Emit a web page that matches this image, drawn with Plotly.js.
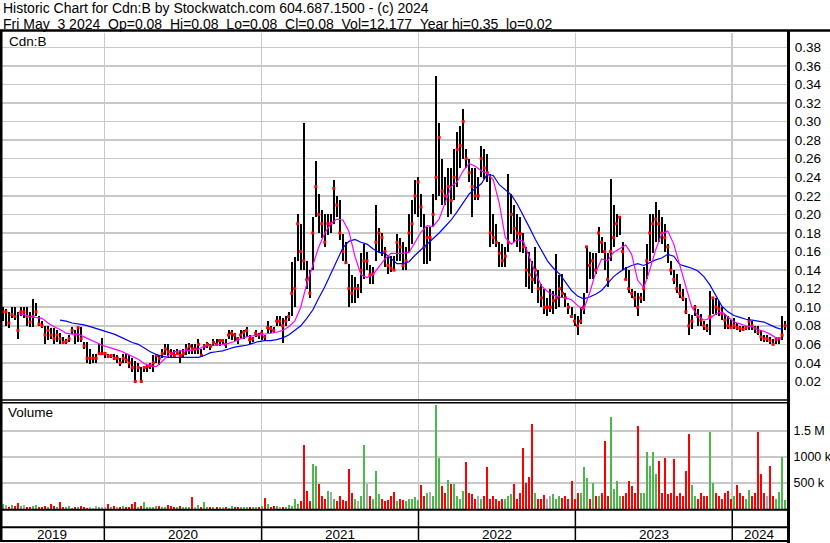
<!DOCTYPE html>
<html><head><meta charset="utf-8">
<script src="https://cdn.plot.ly/plotly-3.0.1.min.js"></script>
<style>html,body{margin:0;padding:0;background:#fff;overflow:hidden}#chart{width:830px;height:543px}</style>
</head><body><div id="chart"></div>
<script>
// ---- data (weekly, first week = 2019-05-03) ----
const startDate = '2019-05-03';
const high = [
.10,.10,.098,.095,.10,.10,.095,.10,.10,.10,
.095,.109,.105,.09,.085,.08,.08,.078,.078,.075,
.072,.068,.066,.07,.079,.075,.079,.079,.062,.062,
.055,.05,.05,.06,.067,.052,.05,.05,.05,.048,
.045,.05,.05,.048,.045,.042,.04,.036,.036,.038,
.04,.048,.05,.048,.055,.06,.06,.055,.054,.055,
.054,.055,.06,.061,.06,.06,.066,.055,.06,.062,
.06,.066,.066,.066,.066,.066,.075,.075,.072,.068,
.075,.075,.079,.07,.068,.075,.072,.075,.07,.085,
.08,.079,.09,.09,.088,.09,.095,.149,.154,.2,
.19,.298,.15,.14,.197,.258,.222,.205,.2,.2,
.2,.237,.22,.215,.179,.17,.147,.135,.133,.125,
.158,.168,.16,.145,.143,.21,.185,.18,.165,.154,
.155,.155,.179,.175,.17,.165,.2,.215,.237,.24,
.222,.2,.186,.186,.222,.349,.299,.26,.24,.25,
.25,.27,.289,.295,.314,.27,.26,.25,.25,.24,
.274,.27,.265,.244,.2,.19,.17,.168,.165,.244,
.222,.21,.2,.197,.18,.165,.16,.15,.165,.14,
.125,.12,.11,.12,.118,.157,.135,.136,.115,.105,
.1,.093,.09,.1,.115,.165,.16,.158,.158,.186,
.176,.17,.158,.238,.21,.2,.197,.17,.143,.14,
.12,.118,.115,.115,.143,.168,.2,.2,.213,.205,
.197,.19,.168,.15,.14,.136,.125,.12,.11,.093,
.092,.102,.098,.093,.085,.082,.118,.11,.11,.107,
.1,.093,.09,.086,.088,.083,.08,.08,.08,.089,
.085,.08,.08,.075,.07,.07,.068,.066,.068,.067,
.09,.085];
const low = [
.084,.085,.08,.078,.088,.086,.066,.09,.088,.08,
.079,.079,.09,.08,.078,.06,.065,.066,.06,.062,
.06,.06,.06,.062,.071,.06,.062,.062,.055,.04,
.039,.04,.04,.048,.05,.045,.045,.045,.043,.04,
.037,.04,.04,.035,.03,.019,.03,.019,.03,.03,
.033,.03,.04,.038,.045,.048,.046,.046,.046,.048,
.04,.045,.048,.05,.05,.05,.05,.046,.054,.056,
.054,.058,.058,.058,.06,.056,.066,.065,.064,.06,
.066,.066,.068,.06,.062,.068,.066,.065,.065,.072,
.072,.072,.08,.08,.061,.08,.085,.09,.1,.15,
.14,.14,.12,.11,.14,.197,.18,.175,.165,.178,
.18,.19,.197,.172,.15,.147,.1,.105,.105,.11,
.115,.13,.14,.125,.125,.15,.16,.155,.143,.136,
.138,.14,.15,.15,.14,.14,.16,.168,.2,.197,
.186,.147,.147,.15,.186,.215,.22,.21,.21,.197,
.2,.215,.23,.25,.26,.25,.235,.197,.215,.215,
.24,.238,.235,.165,.168,.165,.143,.143,.143,.16,
.179,.17,.165,.16,.158,.122,.12,.115,.125,.105,
.1,.093,.09,.095,.093,.098,.1,.11,.1,.093,
.088,.08,.07,.082,.093,.115,.13,.13,.136,.158,
.158,.14,.122,.15,.165,.176,.178,.14,.129,.115,
.11,.1,.09,.105,.107,.13,.15,.158,.17,.17,
.168,.16,.148,.135,.125,.115,.11,.107,.093,.07,
.077,.09,.08,.08,.075,.073,.07,.093,.092,.09,
.086,.077,.077,.077,.077,.075,.073,.075,.075,.075,
.075,.072,.07,.064,.063,.062,.06,.06,.06,.06,
.065,.075];
const close = [
.09,.095,.095,.083,.092,.09,.075,.095,.095,.09,
.084,.09,.095,.082,.08,.07,.075,.07,.066,.07,
.066,.062,.063,.066,.075,.07,.078,.066,.058,.045,
.045,.045,.045,.05,.05,.05,.047,.048,.045,.045,
.04,.045,.043,.04,.035,.02,.035,.02,.035,.036,
.037,.04,.048,.045,.05,.055,.052,.05,.048,.05,
.048,.05,.055,.058,.055,.055,.06,.048,.058,.06,
.058,.062,.06,.064,.064,.06,.07,.072,.07,.066,
.07,.073,.075,.065,.066,.072,.07,.072,.068,.078,
.077,.075,.085,.085,.08,.085,.09,.115,.12,.19,
.16,.15,.13,.115,.18,.23,.2,.19,.17,.19,
.19,.228,.21,.18,.16,.148,.12,.115,.12,.12,
.14,.15,.15,.135,.136,.17,.18,.175,.16,.145,
.142,.14,.17,.165,.145,.15,.18,.19,.22,.235,
.208,.165,.175,.175,.2,.24,.283,.225,.22,.23,
.215,.24,.27,.274,.3,.26,.245,.23,.22,.22,
.26,.25,.245,.18,.175,.17,.158,.15,.155,.17,
.2,.185,.18,.179,.165,.14,.135,.13,.14,.12,
.11,.1,.1,.1,.107,.11,.12,.115,.11,.1,
.09,.085,.08,.085,.1,.165,.145,.15,.14,.18,
.17,.16,.13,.16,.175,.19,.197,.16,.13,.12,
.115,.11,.1,.11,.12,.15,.18,.19,.195,.19,
.18,.175,.165,.14,.13,.12,.115,.11,.095,.08,
.085,.1,.09,.086,.08,.077,.09,.11,.1,.098,
.093,.086,.08,.078,.08,.078,.077,.076,.078,.085,
.08,.077,.073,.068,.066,.066,.064,.06,.065,.066,
.07,.08];
// volume, thousands of shares
const volumeK = [
60,90,80,40,70,60,110,50,70,30,
40,50,80,40,30,60,40,90,50,30,
140,40,30,50,20,30,40,60,30,20,
40,20,60,30,30,40,90,40,60,30,
30,60,30,40,90,130,40,60,140,40,
30,30,50,60,40,30,70,60,30,40,
50,40,30,30,225,40,70,30,130,40,
30,40,30,30,40,30,20,50,30,40,
30,40,30,40,40,30,40,60,205,100,
30,50,60,30,40,30,80,60,190,100,
150,1230,350,150,865,830,480,255,200,350,
320,200,150,250,180,150,770,300,200,150,
250,1230,490,250,200,740,290,200,150,180,
250,320,150,200,180,150,190,200,225,180,
460,250,300,320,250,2000,990,450,300,560,
480,480,250,200,350,900,300,290,200,250,
200,250,815,200,250,200,150,200,200,250,
280,480,200,300,1170,500,610,1630,300,200,
200,270,200,250,295,200,250,220,250,200,
545,200,300,300,815,590,200,500,250,250,
300,1310,250,1780,385,545,250,250,300,545,
450,300,1600,300,300,1100,820,1100,670,930,
300,990,290,300,970,250,300,250,740,1440,
460,250,200,300,250,250,1490,510,300,250,
200,300,350,200,250,460,300,250,200,370,
250,300,1490,670,300,250,830,250,200,320,
1000,180];
// moving averages, sampled every second week
const maFast = [
null,null,null,.093,.092,.09,.089,.088,.083,.079,
.076,.072,.071,.071,.068,.065,.062,.059,.057,.055,
.053,.05,.047,.044,.039,.037,.036,.042,.048,.052,
.053,.053,.054,.055,.058,.059,.059,.06,.061,.063,
.066,.068,.069,.07,.071,.072,.073,.075,.079,.085,
.1,.125,.145,.165,.18,.19,.195,.194,.182,.155,
.135,.132,.135,.143,.152,.158,.158,.158,.159,.17,
.181,.188,.187,.195,.213,.23,.235,.247,.255,.252,
.247,.244,.237,.212,.175,.168,.173,.171,.154,.137,
.123,.117,.113,.111,.11,.108,.102,.097,.115,.137,
.152,.15,.159,.163,.167,.157,.129,.121,.14,.162,
.179,.182,.168,.145,.122,.1,.091,.086,.088,.093,
.095,.089,.084,.082,.08,.079,.076,.074,.071,.067,
.067];
const maSlow = [
null,null,null,null,null,null,null,null,null,null,
.086,.085,.083,.082,.081,.079,.077,.075,.073,.071,
.068,.065,.062,.06,.056,.052,.049,.047,.046,.046,
.046,.046,.046,.046,.048,.051,.052,.053,.055,.057,
.058,.059,.061,.063,.064,.064,.065,.067,.07,.075,
.08,.088,.097,.11,.122,.136,.15,.164,.171,.173,
.17,.168,.163,.159,.158,.153,.147,.147,.149,.156,
.162,.167,.173,.18,.187,.194,.203,.213,.222,.228,
.233,.243,.242,.232,.226,.221,.211,.199,.186,.173,
.161,.15,.142,.136,.127,.118,.112,.109,.111,.114,
.118,.125,.133,.138,.142,.145,.147,.145,.148,.151,
.153,.157,.155,.146,.144,.142,.139,.133,.124,.112,
.101,.095,.091,.089,.087,.086,.085,.084,.081,.078,
.076];
const priceTicks = [0.02,0.04,0.06,0.08,0.10,0.12,0.14,0.16,0.18,0.20,0.22,0.24,0.26,0.28,0.30,0.32,0.34,0.36,0.38];
const volTicks = [500000,1000000,1500000];
const volTickText = ['500 k','1000 k','1.5 M'];
const yearStarts = ['2020-01-01','2021-01-01','2022-01-01','2023-01-01','2024-01-01'];
const yearLabels = ['2019','2020','2021','2022','2023','2024'];
const titleLine1 = 'Historic Chart for Cdn:B by Stockwatch.com 604.687.1500 - (c) 2024';
const titleLine2 = 'Fri May\u00a0\u00a03 2024\u00a0\u00a0Op=0.08\u00a0\u00a0Hi=0.08\u00a0\u00a0Lo=0.08\u00a0\u00a0Cl=0.08\u00a0\u00a0Vol=12,177\u00a0\u00a0Year hi=0.35\u00a0\u00a0lo=0.02';

// ---- build ----
const DAY = 864e5;
const t0 = Date.parse(startDate + 'T00:00:00Z');
const iso = t => new Date(t).toISOString().slice(0,19).replace('T',' ');
const weeks = high.map((_, i) => iso(t0 + i * 7 * DAY));
const maDates = maFast.map((_, k) => weeks[2 * k]);
const xRange = ['2019-05-03 06:00', '2024-05-07 10:00'];
const W = 830, H = 543, PLOT_W = 787;
const px = x => x / W, py = y => 1 - y / H;
const tStart = Date.parse(xRange[0].replace(' ','T')+'Z'), tEnd = Date.parse(xRange[1].replace(' ','T')+'Z');
const msPerPx = (tEnd - tStart) / PLOT_W;
const GREEN = '#4cb84c', RED = '#ff0000', GRAY = '#aaaaaa';
const volColors = close.map((c, i) => i === 0 ? GRAY : (c > close[i-1] ? GREEN : (c < close[i-1] ? RED : GRAY)));

const traces = [
  {type:'bar', x:weeks, y:high.map((h,i)=>Math.max(h-low[i],0.0012)), base:low, width:2*msPerPx,
   marker:{color:'#000', line:{width:0}}, xaxis:'x', yaxis:'y', hoverinfo:'skip'},
  {type:'scatter', mode:'markers', x:weeks, y:close, marker:{symbol:'square', size:3, color:RED, line:{width:0}},
   xaxis:'x', yaxis:'y', hoverinfo:'skip'},
  {type:'scatter', mode:'lines', x:maDates, y:maSlow, line:{color:'#0000ff', width:1.2}, xaxis:'x', yaxis:'y', hoverinfo:'skip'},
  {type:'scatter', mode:'lines', x:maDates, y:maFast, line:{color:'#ff00ff', width:1.2}, xaxis:'x', yaxis:'y', hoverinfo:'skip'},
  {type:'bar', x:weeks, y:volumeK.map(v=>v*1000), width:2*msPerPx, marker:{color:volColors, line:{width:0}},
   xaxis:'x2', yaxis:'y2', hoverinfo:'skip'}
];

// year-label positions: middle of each year segment inside the visible range
const bounds = [tStart].concat(yearStarts.map(d=>Date.parse(d+'T00:00:00Z')), [tEnd]);
const yearAnn = yearLabels.map((lab, i) => ({
  text: lab, xref:'x', yref:'paper', x: iso((bounds[i] + bounds[i+1]) / 2), y: py(534.5),
  xanchor:'center', yanchor:'middle', showarrow:false, borderpad:0, font:{size:13.5, color:'#000'}
}));

const gridC = '#c8c8c8';
const line = (x0,y0,x1,y1,w) => ({type:'line', xref:'paper', yref:'paper', x0:px(x0), y0:py(y0), x1:px(x1), y1:py(y1), line:{color:'#000', width:w}});
const shapes = [
  line(0,30.5,830,30.5,2.5),
  line(0,400,788,400,1.5),
  line(0,402.8,788,402.8,1.5),
  line(0,509.8,788,509.8,2),
  line(0,527.3,788,527.3,2),
  line(0,541,788,541,2),
  line(1,30,1,542,3),
  line(788.5,30,788.5,543,3)
].concat(yearStarts.map(d => ({type:'line', xref:'x', yref:'paper', x0:d, x1:d, y0:py(509), y1:py(541), line:{color:'#000', width:1.5}})));

const axisX = {type:'date', domain:[0, px(PLOT_W)], range:xRange, tickvals:yearStarts, showticklabels:false, ticks:'',
  showgrid:true, gridcolor:gridC, gridwidth:1.5, zeroline:false, showline:false, fixedrange:true};

const layout = {
  width:W, height:H, margin:{l:0,r:0,t:0,b:0}, paper_bgcolor:'#fff', plot_bgcolor:'#fff', showlegend:false,
  font:{family:'"Liberation Sans", Arial, sans-serif', size:13, color:'#000'},
  bargap:0,
  xaxis:Object.assign({}, axisX, {anchor:'y'}),
  xaxis2:Object.assign({}, axisX, {anchor:'y2', matches:'x'}),
  yaxis:{domain:[py(400), py(33)], range:[0, 0.3955], side:'right', anchor:'x', tickvals:priceTicks, tickformat:'.2f',
    showgrid:true, gridcolor:gridC, gridwidth:1.5, ticks:'outside', ticklen:4, tickcolor:'rgba(0,0,0,0)', zeroline:false, showline:false,
    tickfont:{size:13.5, color:'#000'}, fixedrange:true},
  yaxis2:{domain:[py(509), py(403)], range:[0, 2.04e6], side:'right', anchor:'x2', tickvals:volTicks, ticktext:volTickText,
    showgrid:true, gridcolor:gridC, gridwidth:1.5, ticks:'outside', ticklen:3, tickcolor:'rgba(0,0,0,0)', zeroline:false, showline:false,
    tickfont:{size:12.5, color:'#000'}, fixedrange:true},
  shapes: shapes,
  annotations: [
    {text:titleLine1, xref:'paper', yref:'paper', x:px(2), y:py(8), xanchor:'left', yanchor:'middle', showarrow:false, borderpad:0, font:{size:14}},
    {text:titleLine2, xref:'paper', yref:'paper', x:px(2), y:py(24.2), xanchor:'left', yanchor:'middle', showarrow:false, borderpad:0, font:{size:14}},
    {text:'Cdn:B', xref:'paper', yref:'paper', x:px(8), y:py(41), xanchor:'left', yanchor:'middle', showarrow:false, borderpad:0, font:{size:13.5}},
    {text:'Volume', xref:'paper', yref:'paper', x:px(7), y:py(413), xanchor:'left', yanchor:'middle', showarrow:false, borderpad:0, font:{size:13.5}}
  ].concat(yearAnn)
};

Plotly.newPlot('chart', traces, layout, {staticPlot:true, displayModeBar:false});
</script>
</body></html>
